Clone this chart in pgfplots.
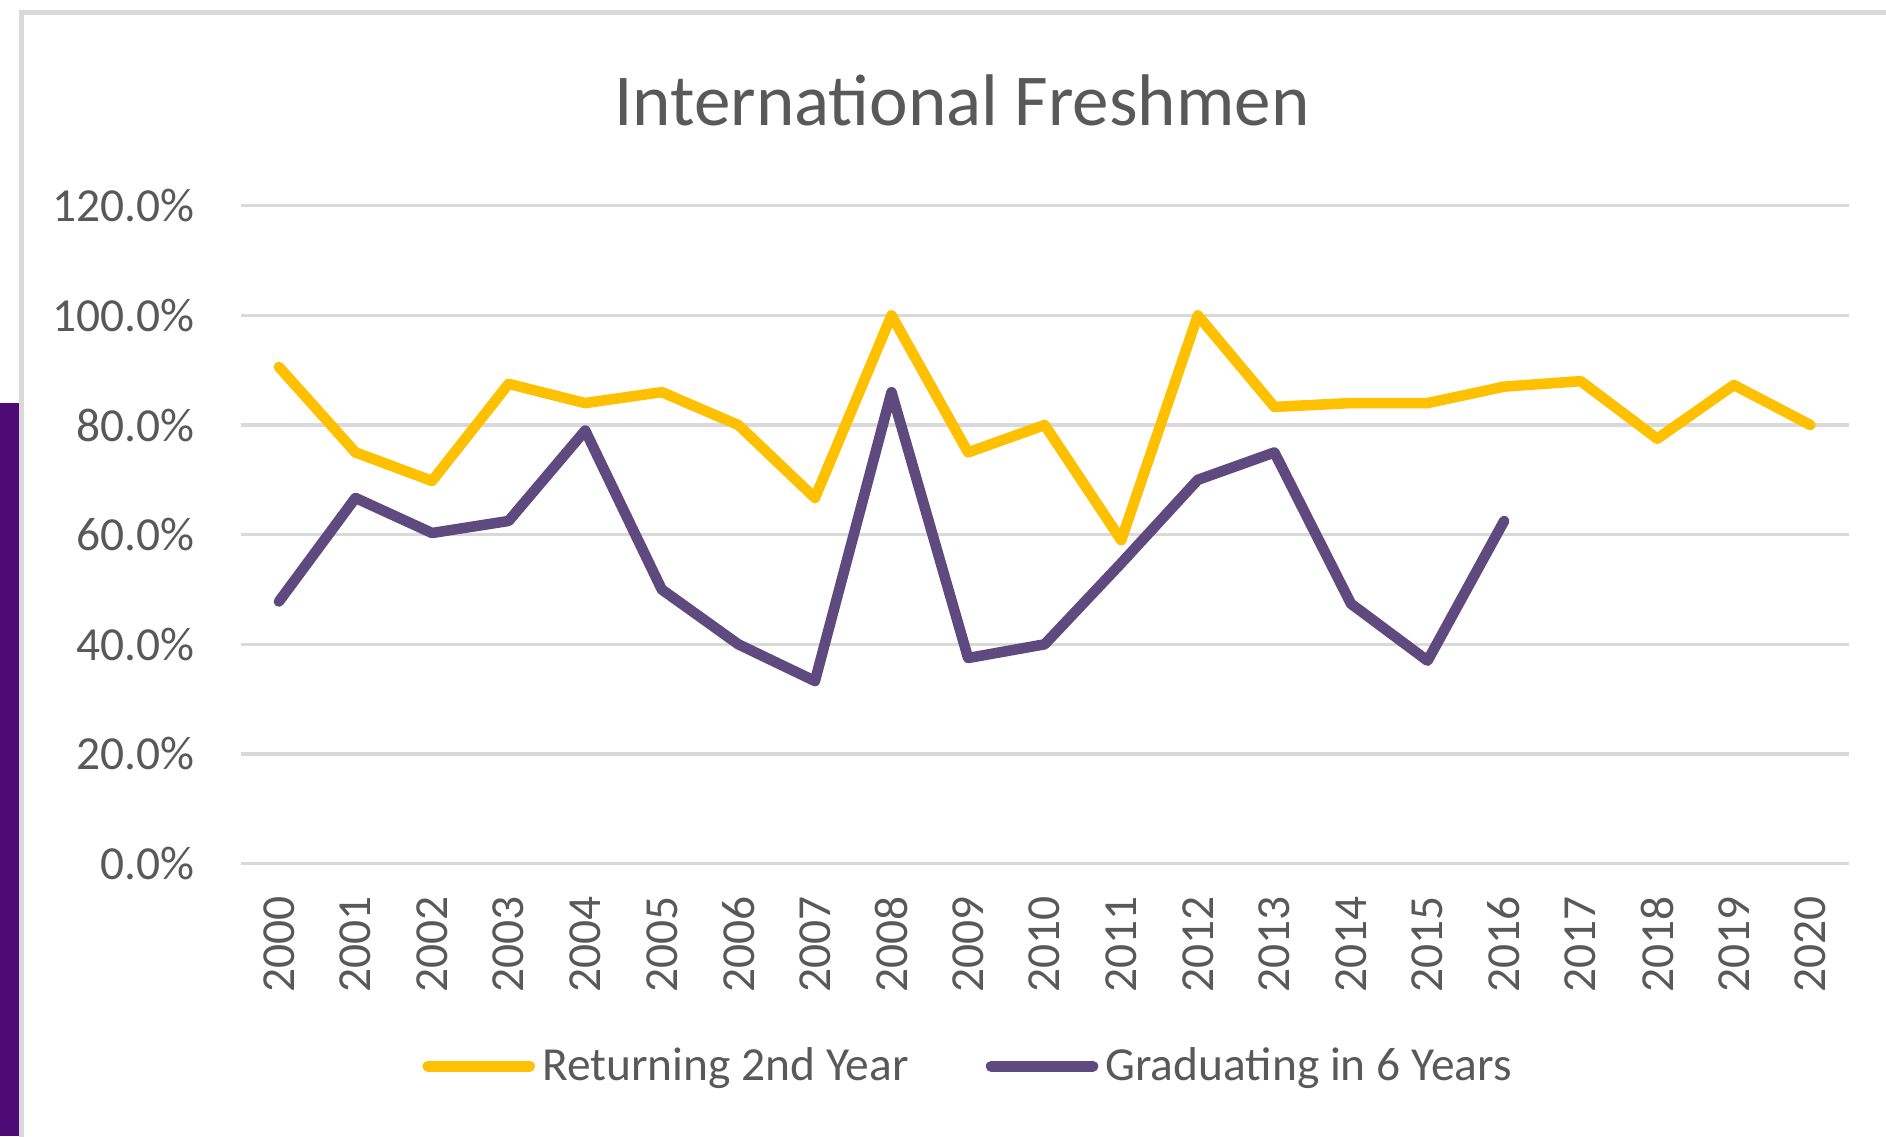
\documentclass[border=0pt]{standalone}
\usepackage{pgfplots}
\pgfplotsset{compat=1.18}
\usepackage{fontspec}
\setmainfont{Carlito}
\definecolor{gold}{HTML}{FFC000}
\definecolor{lpurple}{HTML}{5E4A7E}
\definecolor{dpurple}{HTML}{4E0A75}
\definecolor{gridc}{HTML}{D9D9D9}
\definecolor{txt}{HTML}{595959}
\begin{document}
\begin{tikzpicture}[x=1cm,y=1cm]
\useasboundingbox (0,0) rectangle (18.86,11.36);
\fill[white] (0,0) rectangle (18.86,11.36);
\draw[gridc, line width=0.05cm] (0.215,-0.1) -- (0.215,11.235) -- (19,11.235);
\fill[dpurple] (0,0) rectangle (0.19,7.33);
\node[font=\fontsize{20.8pt}{25pt}\selectfont, text=txt, anchor=base] at (9.62,10.11) {International Freshmen};
\begin{axis}[
  at={(2.406cm,2.724cm)}, anchor=south west,
  scale only axis, width=16.081cm, height=6.579cm,
  xmin=-0.5, xmax=20.5, ymin=0, ymax=120,
  xtick={0,1,2,3,4,5,6,7,8,9,10,11,12,13,14,15,16,17,18,19,20},
  xticklabels={2000,2001,2002,2003,2004,2005,2006,2007,2008,2009,2010,2011,2012,2013,2014,2015,2016,2017,2018,2019,2020},
  ytick={0,20,40,60,80,100,120},
  yticklabels={0.0\%,20.0\%,40.0\%,60.0\%,80.0\%,100.0\%,120.0\%},
  major tick length=0pt,
  axis line style={draw=none},
  ymajorgrids,
  grid style={gridc, line width=1pt},
  ticklabel style={font=\fontsize{13.5pt}{15pt}\selectfont, text=txt},
  yticklabel style={anchor=east, inner sep=0pt, xshift=-4.5mm},
  xticklabel style={yshift=-3.2mm, rotate=90, anchor=east, inner sep=0pt},
  legend style={at={(0.454,-0.308)}, anchor=center, draw=none, fill=none,
    font=\fontsize{13.5pt}{15pt}\selectfont, text=txt,
    /tikz/every even column/.append style={column sep=7mm}},
  legend columns=2,
  legend image code/.code={\draw[#1, line cap=round] (0mm,0mm) -- (10.2mm,0mm);},
  every axis plot/.append style={line width=3pt, line join=round, line cap=round},
  clip=false,
]
\addplot[gold] coordinates {
(0,90.6) (1,75) (2,69.8) (3,87.5) (4,84) (5,86) (6,80) (7,66.7) (8,100) (9,75)
(10,80) (11,59) (12,100) (13,83.3) (14,84) (15,84) (16,87) (17,88) (18,77.5) (19,87.3) (20,80)};
\addlegendentry{Returning 2nd Year}
\addplot[lpurple] coordinates {
(0,47.8) (1,66.7) (2,60.3) (3,62.5) (4,79) (5,50) (6,40) (7,33.3) (8,86) (9,37.5)
(10,40) (11,54.8) (12,70) (13,75) (14,47.4) (15,37) (16,62.5)};
\addlegendentry{Graduating in 6 Years}
\end{axis}
\end{tikzpicture}
\end{document}
